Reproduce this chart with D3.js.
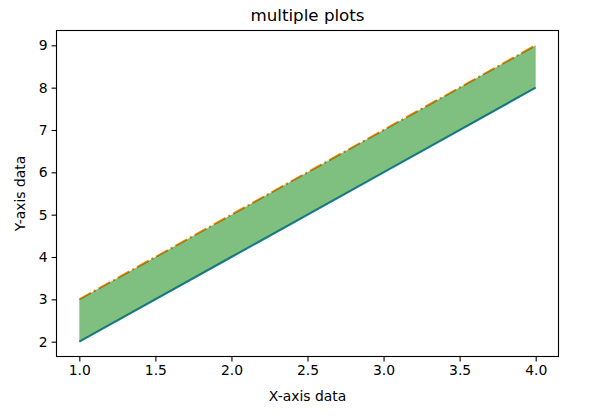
<!DOCTYPE html>
<html>
<head>
<meta charset="utf-8">
<script src="https://cdn.jsdelivr.net/npm/d3@7"></script>
<style>
  html, body { margin: 0; padding: 0; background: #fff; }
  svg { display: block; }
  text { font-family: "DejaVu Sans", sans-serif; fill: #000; }
</style>
</head>
<body>
<svg id="chart" width="610" height="418"></svg>
<script>
const xValues = [1, 2, 3, 4];
const yLower = [2, 4, 6, 8];
const yUpper = [3, 5, 7, 9];
const xTicks = [1.0, 1.5, 2.0, 2.5, 3.0, 3.5, 4.0];
const yTicks = [2, 3, 4, 5, 6, 7, 8, 9];
const titleText = "multiple plots";
const xLabelText = "X-axis data";
const yLabelText = "Y-axis data";

const svg = d3.select("#chart");
const m = { left: 56.5, right: 558.5, top: 30.5, bottom: 356.5 };

const xs = d3.scaleLinear().domain([0.85, 4.15]).range([m.left, m.right]);
const ys = d3.scaleLinear().domain([1.65, 9.35]).range([m.bottom, m.top]);

const data = xValues.map((x, i) => ({ x, lo: yLower[i], hi: yUpper[i] }));

// lines
const line = (acc) => d3.line().x(d => xs(d.x)).y(d => ys(acc(d)));
svg.append("path").datum(data)
  .attr("d", line(d => d.lo))
  .attr("fill", "none").attr("stroke", "#1f77b4").attr("stroke-width", 2.1);
svg.append("path").datum(data)
  .attr("d", line(d => d.hi))
  .attr("fill", "none").attr("stroke", "#ff7f0e").attr("stroke-width", 2.1)
  .attr("stroke-dasharray", "13.3,3.3,2.1,3.3");

// fill between (drawn after the lines)
const area = d3.area().x(d => xs(d.x)).y0(d => ys(d.lo)).y1(d => ys(d.hi));
svg.append("path").datum(data)
  .attr("d", area)
  .attr("fill", "green").attr("fill-opacity", 0.5)
  .attr("stroke", "none");

// axes
const xAxis = d3.axisBottom(xs).tickValues(xTicks).tickFormat(d3.format(".1f"))
  .tickSize(4.9).tickPadding(4);
const yAxis = d3.axisLeft(ys).tickValues(yTicks).tickFormat(d3.format("d"))
  .tickSize(4.9).tickPadding(4);

const gx = svg.append("g").attr("transform", `translate(0,${m.bottom})`).call(xAxis);
const gy = svg.append("g").attr("transform", `translate(${m.left},0)`).call(yAxis);
[gx, gy].forEach(g => {
  g.select(".domain").remove();
  g.selectAll(".tick line").attr("stroke", "#000").attr("stroke-width", 1.1);
  g.selectAll(".tick text").attr("font-size", "13.9px").attr("fill", "#000")
    .style("font-family", "'DejaVu Sans', sans-serif");
});

// spines
svg.append("rect")
  .attr("x", m.left).attr("y", m.top)
  .attr("width", m.right - m.left).attr("height", m.bottom - m.top)
  .attr("fill", "none").attr("stroke", "#000").attr("stroke-width", 1.1);

// title and labels
svg.append("text").attr("x", (m.left + m.right) / 2).attr("y", 21)
  .attr("text-anchor", "middle").attr("font-size", "16.7px").text(titleText);
svg.append("text").attr("x", (m.left + m.right) / 2).attr("y", 400.5)
  .attr("text-anchor", "middle").attr("font-size", "13.9px").text(xLabelText);
svg.append("text")
  .attr("transform", `translate(25,${(m.top + m.bottom) / 2}) rotate(-90)`)
  .attr("text-anchor", "middle").attr("font-size", "13.9px").text(yLabelText);
</script>
</body>
</html>
